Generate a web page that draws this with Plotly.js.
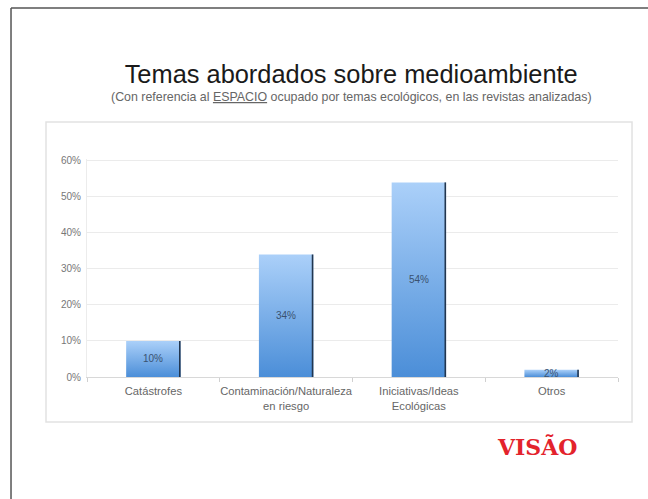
<!DOCTYPE html>
<html>
<head>
<meta charset="utf-8">
<script src="https://cdn.plot.ly/plotly-3.0.1.min.js"></script>
<style>
html,body{margin:0;padding:0;background:#fff;}
#chart{width:648px;height:499px;}
</style>
</head>
<body>
<div id="chart"></div>
<script>
// ---- data ----
const categories = ["Catástrofes", "Contaminación/Naturaleza<br>en riesgo", "Iniciativas/Ideas<br>Ecológicas", "Otros"];
const values = [10, 34, 54, 2];
const valueLabels = ["10%", "34%", "54%", "2%"];
const yTickVals = [0, 10, 20, 30, 40, 50, 60];
const yTickText = ["0%", "10%", "20%", "30%", "40%", "50%", "60%"];

const BAR_W = 0.41;
const EDGE_W = 0.012;

const bars = {
  type: "bar",
  x: categories,
  y: values,
  width: BAR_W,
  marker: {color: "#78aeea", line: {width: 0}},
  hoverinfo: "skip",
  showlegend: false
};
const edges = {
  type: "bar",
  x: categories,
  y: values,
  width: EDGE_W,
  offset: BAR_W / 2 - EDGE_W,
  marker: {color: "#22364f", line: {width: 0}},
  hoverinfo: "skip",
  showlegend: false
};

const labelAnnotations = categories.map((c, i) => ({
  x: c, y: values[i] / 2, xref: "x", yref: "y",
  text: valueLabels[i], showarrow: false,
  font: {family: "Liberation Sans, Arial, sans-serif", size: 10, color: "#3a5270"}
}));

const layout = {
  width: 648, height: 499,
  margin: {l: 87, r: 30, t: 159, b: 122},
  paper_bgcolor: "#ffffff",
  plot_bgcolor: "rgba(0,0,0,0)",
  barmode: "overlay",
  font: {family: "Liberation Sans, Arial, sans-serif", color: "#666"},
  title: {
    text: "Temas abordados sobre medioambiente",
    x: 0.542, xanchor: "center",
    y: 0.851, yanchor: "middle", yref: "container",
    font: {family: "Liberation Sans, Arial, sans-serif", size: 25.4, color: "#1a1a1a"}
  },
  xaxis: {
    type: "category",
    tickson: "boundaries",
    tickangle: 0,
    ticks: "outside", ticklen: 4, tickcolor: "#d0d0d0",
    ticklabelstandoff: 4,
    showline: true, linecolor: "#d8d8d8", linewidth: 1,
    showgrid: false,
    tickfont: {size: 11.2, color: "#666"},
    fixedrange: true
  },
  yaxis: {
    range: [0, 60.5],
    tickvals: yTickVals, ticktext: yTickText,
    showgrid: true, gridcolor: "#ebebeb", gridwidth: 1,
    showline: true, linecolor: "#ececec",
    zeroline: false,
    ticks: "", ticklabelstandoff: 3,
    tickfont: {size: 10, color: "#777"},
    fixedrange: true
  },
  annotations: labelAnnotations.concat([
    {
      xref: "paper", yref: "paper", x: (351 - 87) / 531, y: (377 - 97) / 218,
      xanchor: "center", yanchor: "middle", showarrow: false,
      text: "(Con referencia al <u>ESPACIO</u> ocupado por temas ecológicos, en las revistas analizadas)",
      font: {family: "Liberation Sans, Arial, sans-serif", size: 12.4, color: "#666"}
    },
    {
      xref: "paper", yref: "paper", x: 0.9266, y: -0.321,
      xanchor: "right", yanchor: "middle",
      text: "VISÃO", showarrow: false,
      font: {family: "'DejaVu Serif', serif", size: 22, weight: "bold", color: "#e3232c"}
    }
  ]),
  shapes: [
    // inner panel
    {type: "rect", xref: "paper", yref: "paper", x0: -0.0772, x1: 1.0264, y0: -0.2064, y1: 1.1697,
     line: {color: "#e2e2e2", width: 1.5}, fillcolor: "rgba(0,0,0,0)", layer: "below"},
    // outer frame (left and top edges)
    {type: "line", xref: "paper", yref: "paper", x0: -0.1431, x1: -0.1431, y0: -0.6, y1: 1.6927,
     line: {color: "#555", width: 1.5}},
    {type: "line", xref: "paper", yref: "paper", x0: -0.1431, x1: 1.1, y0: 1.6927, y1: 1.6927,
     line: {color: "#555", width: 1.5}}
  ]
};

Plotly.newPlot("chart", [bars, edges], layout, {staticPlot: true, displayModeBar: false}).then(gd => {
  // vertical gradient fill for the main bars
  const svg = gd.querySelector(".main-svg");
  const ns = "http://www.w3.org/2000/svg";
  let defs = svg.querySelector("defs");
  if (!defs) { defs = document.createElementNS(ns, "defs"); svg.insertBefore(defs, svg.firstChild); }
  const grad = document.createElementNS(ns, "linearGradient");
  grad.setAttribute("id", "barGrad");
  grad.setAttribute("x1", "0"); grad.setAttribute("y1", "0");
  grad.setAttribute("x2", "0"); grad.setAttribute("y2", "1");
  [["0%", "#abd0f9"], ["100%", "#4b8ed8"]].forEach(([o, c]) => {
    const s = document.createElementNS(ns, "stop");
    s.setAttribute("offset", o); s.setAttribute("stop-color", c);
    grad.appendChild(s);
  });
  defs.appendChild(grad);
  const traces = gd.querySelectorAll(".barlayer .trace");
  if (traces.length) {
    traces[0].querySelectorAll("path").forEach(p => { p.style.fill = "url(#barGrad)"; });
  }
});
</script>
</body>
</html>
